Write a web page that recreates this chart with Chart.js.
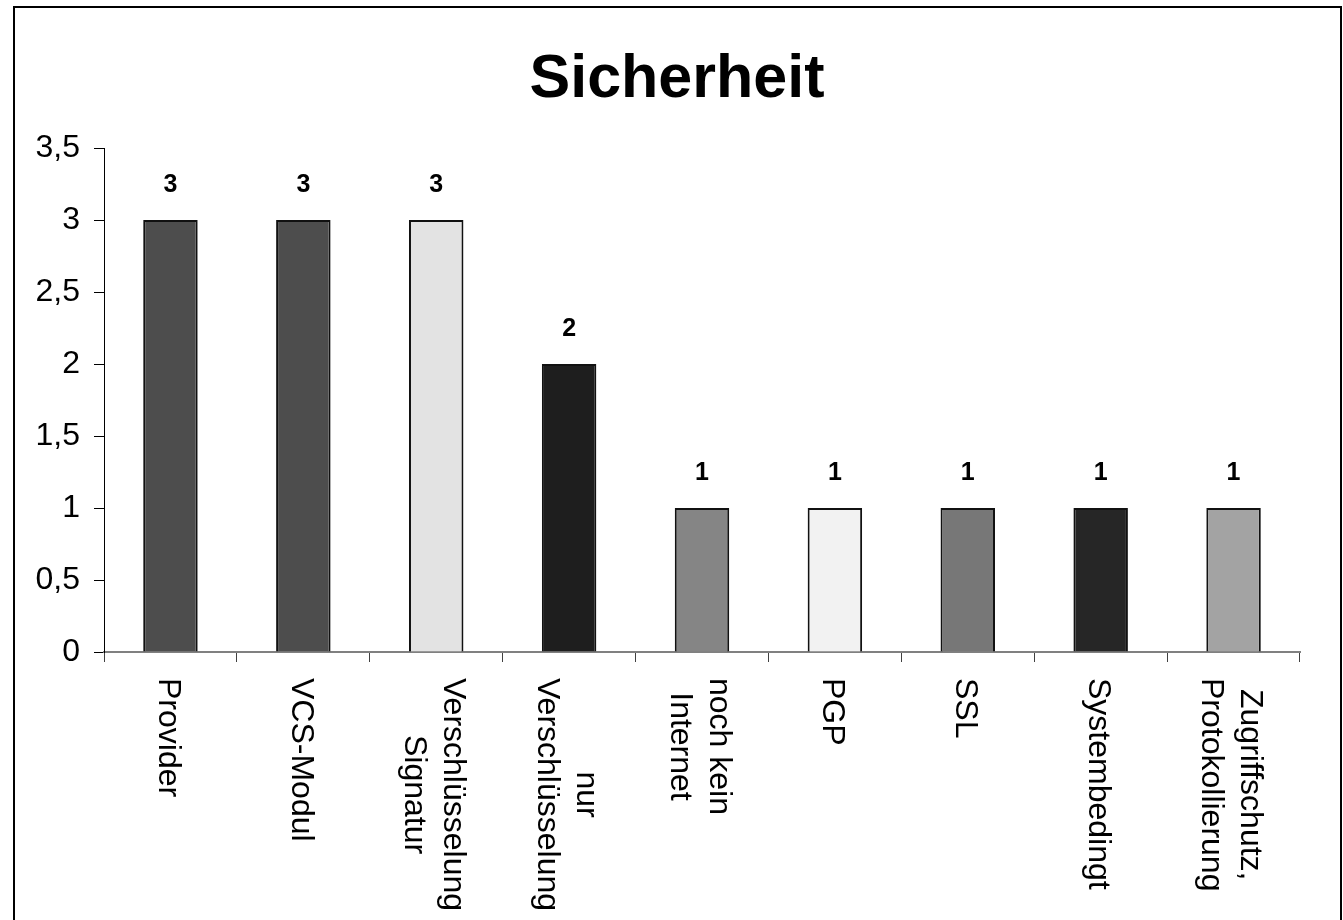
<!DOCTYPE html>
<html lang="de">
<head>
<meta charset="utf-8">
<title>Sicherheit</title>
<script src="https://cdn.jsdelivr.net/npm/chart.js@4/dist/chart.umd.min.js"></script>
<style>
  html, body { margin: 0; padding: 0; background: #fff; }
  #wrap { position: relative; width: 1343px; height: 920px; }
</style>
</head>
<body>
<div id="wrap"><canvas id="chart"></canvas></div>
<script>
// Categories (multi-line labels as arrays of lines)
const categories = [
  ['Provider'],
  ['VCS-Modul'],
  ['Verschlüsselung', 'Signatur'],
  ['nur', 'Verschlüsselung'],
  ['noch kein', 'Internet'],
  ['PGP'],
  ['SSL'],
  ['Systembedingt'],
  ['Zugriffschutz,', 'Protokollierung']
];
const values = [3, 3, 3, 2, 1, 1, 1, 1, 1];
const barColors = ['#4d4d4d', '#4d4d4d', '#e3e3e3', '#1e1e1e', '#858585', '#f2f2f2', '#777777', '#262626', '#a3a3a3'];
const yMin = 0, yMax = 3.5, yStep = 0.5;
const chartTitle = 'Sicherheit';

const FONT = '"Liberation Sans", Arial, Helvetica, sans-serif';
Chart.defaults.color = '#000';
Chart.defaults.font.family = FONT;

// Outer frame and heading
const framePlugin = {
  id: 'frame',
  afterDraw(chart) {
    const ctx = chart.ctx;
    ctx.save();
    ctx.strokeStyle = '#000';
    ctx.lineWidth = 2;
    ctx.strokeRect(14, 7, 1327, 960);
    ctx.font = 'bold 61px ' + FONT;
    ctx.fillStyle = '#000';
    ctx.textAlign = 'center';
    ctx.textBaseline = 'middle';
    ctx.fillText(chartTitle, 677, 80);
    ctx.restore();
  }
};

// Value labels above each bar
const valueLabels = {
  id: 'valueLabels',
  afterDatasetsDraw(chart) {
    const ctx = chart.ctx;
    const meta = chart.getDatasetMeta(0);
    ctx.save();
    ctx.font = 'bold 25px ' + FONT;
    ctx.fillStyle = '#000';
    ctx.textAlign = 'center';
    ctx.textBaseline = 'middle';
    meta.data.forEach((bar, i) => {
      const v = chart.data.datasets[0].data[i];
      ctx.fillText(String(v).replace('.', ','), bar.x, bar.y - 35);
    });
    ctx.restore();
  }
};

// Category labels rotated to read top-to-bottom
const rotatedLabels = {
  id: 'rotatedLabels',
  afterDraw(chart) {
    const ctx = chart.ctx;
    const xs = chart.scales.x;
    const top = xs.top + 26;
    const lh = 39;
    ctx.save();
    ctx.font = '32px ' + FONT;
    ctx.fillStyle = '#000';
    ctx.textAlign = 'center';
    ctx.textBaseline = 'middle';
    chart.data.labels.forEach((lines, i) => {
      const x = xs.getPixelForValue(i) - 3;
      const widths = lines.map(l => ctx.measureText(l).width);
      const maxW = Math.max(...widths);
      ctx.save();
      ctx.translate(x, top);
      ctx.rotate(Math.PI / 2);
      const n = lines.length;
      lines.forEach((l, k) => {
        ctx.fillText(l, maxW / 2, (k - (n - 1) / 2) * lh);
      });
      ctx.restore();
    });
    ctx.restore();
  }
};

new Chart(document.getElementById('chart'), {
  type: 'bar',
  data: {
    labels: categories,
    datasets: [{
      data: values,
      backgroundColor: barColors,
      borderColor: '#111',
      borderWidth: 2,
      categoryPercentage: 1,
      barPercentage: 0.41
    }]
  },
  options: {
    responsive: true,
    maintainAspectRatio: false,
    animation: false,
    layout: { padding: { top: 148, left: 0, right: 43, bottom: 0 } },
    plugins: {
      legend: { display: false },
      tooltip: { enabled: false },
      title: { display: false }
    },
    scales: {
      x: {
        afterFit(scale) { scale.height = 268; },
        border: { display: true, color: '#808080', width: 2 },
        grid: {
          offset: true,
          drawOnChartArea: false,
          drawTicks: true,
          tickLength: 10,
          tickColor: '#404040',
          tickWidth: 1
        },
        ticks: { display: false }
      },
      y: {
        min: yMin,
        max: yMax,
        afterFit(scale) { scale.width = 104; },
        border: { display: true, color: '#000', width: 1 },
        grid: {
          drawOnChartArea: false,
          drawTicks: true,
          tickLength: 10,
          tickColor: '#000'
        },
        ticks: {
          stepSize: yStep,
          padding: 14,
          color: '#000',
          font: { family: FONT, size: 32 },
          callback: v => String(v).replace('.', ',')
        }
      }
    }
  },
  plugins: [valueLabels, rotatedLabels, framePlugin]
});
</script>
</body>
</html>
